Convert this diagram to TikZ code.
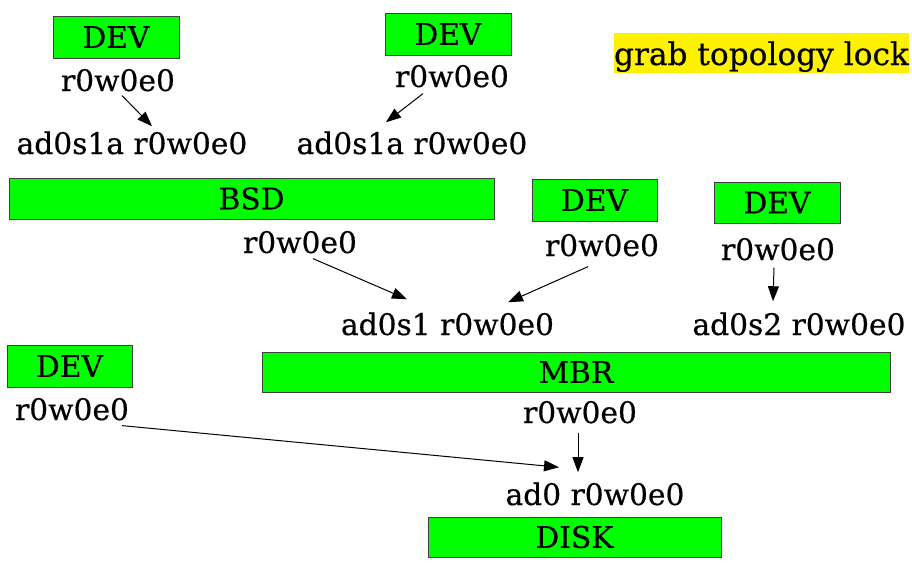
\documentclass[tikz,border=0pt]{standalone}
\usepackage{fontspec}
\setmainfont{DejaVu Serif}[FakeBold=0.5]
\usetikzlibrary{arrows.meta}
\definecolor{boxgreen}{HTML}{00FF00}
\definecolor{boxline}{HTML}{404040}
\tikzset{
  lbl/.style={inner sep=0pt, anchor=base},
  geom/.style={draw=boxline, fill=boxgreen, line width=1pt, inner sep=0pt,
               minimum width=#1},
  arr/.style={line width=1pt, -{Triangle[length=15pt,width=11pt]}},
}
\begin{document}
\begin{tikzpicture}[x=1pt,y=-1pt,font=\fontsize{29.7}{32}\selectfont]
\useasboundingbox (0,0) rectangle (912,562);

% geom boxes
\node[geom=126, minimum height=42] (dev1) at (116,37) {DEV};
\node[geom=126, minimum height=42] (dev2) at (448,34) {DEV};
\node[geom=485, minimum height=41] (bsd)  at (251.5,198.5) {BSD};
\node[geom=125, minimum height=42] (dev3) at (594.5,200) {DEV};
\node[geom=126, minimum height=41] (dev4) at (777,202.5) {DEV};
\node[geom=125, minimum height=42] (dev5) at (69.5,366) {DEV};
\node[geom=628, minimum height=40] (mbr)  at (576,372) {MBR};
\node[geom=293, minimum height=40] (disk) at (574.5,537) {DISK};

% access counts of consumers and providers
\node[lbl] (ra) at (118,91)  {r0w0e0};
\node[lbl] (sa) at (132,154) {ad0s1a r0w0e0};
\node[lbl] (rb) at (452,87)  {r0w0e0};
\node[lbl] (sb) at (412,154) {ad0s1a r0w0e0};
\node[lbl] (rc) at (300,253) {r0w0e0};
\node[lbl] (s1) at (447.5,335) {ad0s1 r0w0e0};
\node[lbl] (rd) at (602,256) {r0w0e0};
\node[lbl] (re) at (778,260) {r0w0e0};
\node[lbl] (s2) at (799,335) {ad0s2 r0w0e0};
\node[lbl] (rf) at (72,420)  {r0w0e0};
\node[lbl] (rg) at (580,423) {r0w0e0};
\node[lbl] (s0) at (595,505) {ad0 r0w0e0};

% lock note
\node[lbl, fill=yellow, inner xsep=0pt, text height=32pt, text depth=8pt,
      minimum width=295pt, font=\fontsize{31.2}{33}\selectfont]
      (lock) at (761.5,65) {grab topology lock};

% attachments
\draw[arr] ([shift={(4,4)}]ra.south)   -- ([shift={(20,-5)}]sa.north);
\draw[arr] ([shift={(-29,6)}]rb.south) -- ([shift={(-26,-9)}]sb.north);
\draw[arr] ([shift={(13,5)}]rc.south)  -- ([shift={(-40.5,-13)}]s1.north);
\draw[arr] ([shift={(-14,10)}]rd.south) -- ([shift={(60.5,-10)}]s1.north);
\draw[arr] ([shift={(-4,7)}]re.south)  -- ([shift={(-26,-11)}]s2.north);
\draw[arr] ([shift={(50,5)}]rf.south)  -- ([shift={(-36,-15)}]s0.north);
\draw[arr] ([shift={(-2,9)}]rg.south)  -- ([shift={(-17,-10)}]s0.north);
\end{tikzpicture}
\end{document}
